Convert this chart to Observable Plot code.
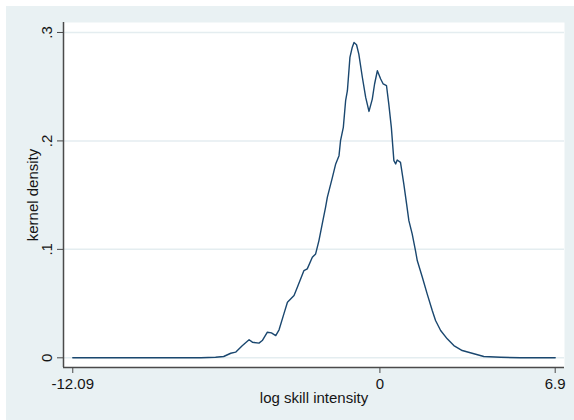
<!DOCTYPE html>
<html>
<head>
<meta charset="utf-8">
<script src="https://cdn.jsdelivr.net/npm/d3@7"></script>
<script src="https://cdn.jsdelivr.net/npm/@observablehq/plot@0.6"></script>
<style>
  html, body { margin: 0; padding: 0; background: #ffffff; }
  #wrap { position: relative; width: 574px; height: 420px; overflow: hidden; }
  #bg { position: absolute; left: 6px; top: 6px; width: 568px; height: 414px; background: #e9f1f3; }
  #chart { position: absolute; left: 0; top: 0; }
</style>
</head>
<body>
<div id="wrap"><div id="bg"></div><div id="chart"></div></div>
<script>
// log skill intensity (x) and kernel density (y)
const logSkill = [-12.09, -9.02, -7.05, -6.47, -6.15, -5.87, -5.68, -5.41, -5.15, -5.02, -4.76, -4.63, -4.43, -4.27, -4.10, -3.97, -3.78, -3.64, -3.38, -3.25, -2.99, -2.86, -2.66, -2.53, -2.40, -2.27, -2.14, -2.07, -1.87, -1.74, -1.61, -1.55, -1.44, -1.35, -1.28, -1.18, -1.09, -1.02, -0.92, -0.83, -0.69, -0.56, -0.43, -0.30, -0.21, -0.10, 0.03, 0.13, 0.26, 0.35, 0.45, 0.55, 0.62, 0.68, 0.81, 0.94, 1.05, 1.14, 1.27, 1.40, 1.47, 1.67, 1.86, 2.06, 2.19, 2.39, 2.65, 2.91, 3.24, 3.70, 4.09, 4.75, 5.54, 6.9];
const density = [0, 0, 0, 0.0005, 0.0012, 0.0042, 0.0052, 0.0113, 0.0166, 0.0144, 0.0135, 0.0159, 0.0236, 0.0230, 0.0205, 0.0258, 0.0405, 0.0512, 0.0574, 0.0650, 0.0804, 0.0820, 0.0927, 0.0958, 0.1081, 0.1235, 0.1388, 0.1480, 0.1664, 0.1788, 0.1864, 0.2002, 0.2125, 0.2371, 0.2463, 0.2770, 0.2862, 0.2908, 0.2887, 0.2801, 0.2585, 0.2401, 0.2272, 0.2386, 0.2525, 0.2647, 0.2571, 0.2525, 0.2509, 0.2340, 0.2125, 0.1818, 0.1788, 0.1824, 0.1802, 0.1603, 0.1419, 0.1265, 0.1143, 0.0989, 0.0897, 0.0743, 0.0590, 0.0436, 0.0344, 0.0252, 0.0175, 0.0113, 0.0067, 0.0037, 0.0012, 0.0005, 0, 0];
const xTicks = [-12.09, 0, 6.9];
const yTicks = [0, 0.1, 0.2, 0.3];
const xLabel = "log skill intensity";
const yLabel = "kernel density";

const data = logSkill.map((x, i) => ({x, y: density[i]}));
const xDomain = [-12.455, 7.266];
const yDomain = [-0.00894, 0.3092];
const axisColor = "#4a4a4a";
const textColor = "#151515";

const chart = Plot.plot({
  width: 574,
  height: 420,
  marginLeft: 63,
  marginRight: 10,
  marginTop: 22,
  marginBottom: 53,
  style: {background: "transparent", fontFamily: "'Liberation Sans', Arial, sans-serif", fontSize: "15px", color: textColor},
  x: {domain: xDomain},
  y: {domain: yDomain},
  marks: [
    Plot.frame({fill: "white", stroke: null}),
    Plot.gridY(yTicks, {stroke: "#e4edf0", strokeOpacity: 1, strokeWidth: 1.5}),
    Plot.line(data, {x: "x", y: "y", stroke: "#1a476f", strokeWidth: 1.4}),
    Plot.ruleX([xDomain[0]], {stroke: axisColor, strokeWidth: 1.5}),
    Plot.ruleY([yDomain[0]], {stroke: axisColor, strokeWidth: 1.5}),
    Plot.axisY(yTicks, {
      tickRotate: -90, tickSize: 6, tickPadding: 6, stroke: axisColor, fill: textColor,
      tickFormat: d => d === 0 ? "0" : String(d).replace(/^0\./, "."),
      label: yLabel, labelAnchor: "center", labelArrow: "none", labelOffset: 36
    }),
    Plot.axisX(xTicks, {
      tickSize: 6, tickPadding: 5, stroke: axisColor, fill: textColor,
      tickFormat: d => String(d),
      label: xLabel, labelAnchor: "center", labelArrow: "none", labelOffset: 35
    })
  ]
});
document.getElementById("chart").appendChild(chart);
</script>
</body>
</html>
